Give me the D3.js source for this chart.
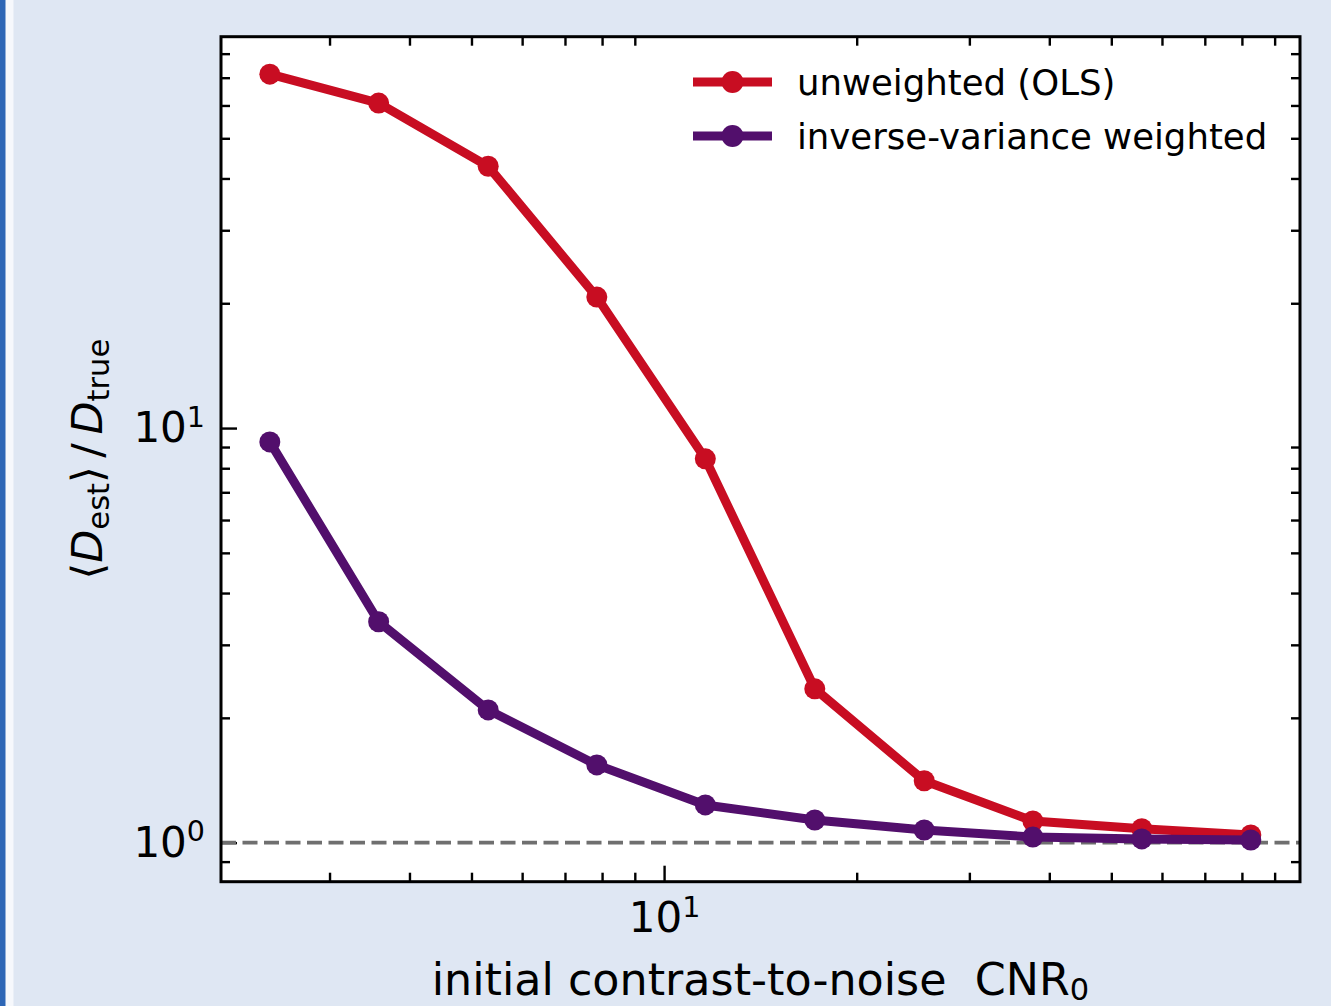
<!DOCTYPE html>
<html>
<head>
<meta charset="utf-8">
<script src="https://cdn.jsdelivr.net/npm/d3@7"></script>
<style>
  html, body { margin: 0; padding: 0; background: #dfe7f3; }
  svg { display: block; }
  text { font-family: "DejaVu Sans", sans-serif; fill: #000; }
</style>
</head>
<body>
<svg id="chart" width="1331" height="1006"></svg>
<script>
// Initial contrast-to-noise ratio (x) and mean estimated / true diffusion ratio (y)
const cnr = [2.42, 3.58, 5.31, 7.85, 11.6, 17.2, 25.5, 37.7, 55.8, 82.6];
const olsRatio = [71.4, 60.8, 42.8, 20.7, 8.43, 2.35, 1.41, 1.128, 1.080, 1.044];
const ivwRatio = [9.26, 3.41, 2.09, 1.54, 1.233, 1.134, 1.073, 1.032, 1.021, 1.015];
const seriesNames = ["unweighted (OLS)", "inverse-variance weighted"];
const xMajorTicks = [10];
const xMinorTicks = [3, 4, 5, 6, 7, 8, 9, 20, 30, 40, 50, 60, 70, 80, 90];
const yMajorTicks = [1, 10];
const yMinorTicks = [0.9, 2, 3, 4, 5, 6, 7, 8, 9, 20, 30, 40, 50, 60, 70, 80];
const referenceLevel = 1;

const W = 1331, H = 1006;
const plot = { left: 221, right: 1300, top: 36.7, bottom: 881.7 };
const colors = ["#c80d22", "#520f6c"];

const svg = d3.select("#chart");

// page backdrop with the left accent stripe
svg.append("rect").attr("width", W).attr("height", H).attr("fill", "#dfe7f3");
svg.append("rect").attr("x", 0).attr("y", 0).attr("width", 13.5).attr("height", H).attr("fill", "#f6f8fc");
svg.append("rect").attr("x", 0).attr("y", 0).attr("width", 5.5).attr("height", H).attr("fill", "#2d66b6");

const x = d3.scaleLog().domain([2.03, 98.6]).range([plot.left, plot.right]);
const y = d3.scaleLog().domain([0.805, 87.9]).range([plot.bottom, plot.top]);

// plotting area
svg.append("rect")
  .attr("x", plot.left).attr("y", plot.top)
  .attr("width", plot.right - plot.left).attr("height", plot.bottom - plot.top)
  .attr("fill", "#ffffff");

svg.append("clipPath").attr("id", "plotclip")
  .append("rect")
  .attr("x", plot.left).attr("y", plot.top)
  .attr("width", plot.right - plot.left).attr("height", plot.bottom - plot.top);

const majorLen = 16, minorLen = 9;
const tickFont = 42;

function styleTicks(g) {
  g.select(".domain").remove();
  g.selectAll(".tick line").attr("stroke", "#000").attr("stroke-width", 2.4);
}

// power-of-ten label: base "10" with a raised exponent
function powerLabel(textSel) {
  textSel.each(function(d) {
    const t = d3.select(this);
    const exp = Math.round(Math.log10(d));
    t.text(null);
    t.append("tspan").text("10");
    t.append("tspan").attr("font-size", tickFont * 0.68).attr("dy", -15.5).text(String(exp));
  });
}

// bottom axis
const gxMajor = svg.append("g")
  .attr("transform", `translate(0,${plot.bottom})`)
  .call(d3.axisBottom(x).tickValues(xMajorTicks).tickSize(-majorLen).tickPadding(20.5));
styleTicks(gxMajor);
gxMajor.selectAll(".tick text").attr("font-size", tickFont).attr("font-family", "DejaVu Sans").call(powerLabel);

const gxMinor = svg.append("g")
  .attr("transform", `translate(0,${plot.bottom})`)
  .call(d3.axisBottom(x).tickValues(xMinorTicks).tickSize(-minorLen).tickFormat(""));
styleTicks(gxMinor);

// top axis: minor ticks only
const gxTop = svg.append("g")
  .attr("transform", `translate(0,${plot.top})`)
  .call(d3.axisTop(x).tickValues(xMinorTicks).tickSize(-minorLen).tickFormat(""));
styleTicks(gxTop);

// left axis
const gyMajor = svg.append("g")
  .attr("transform", `translate(${plot.left},0)`)
  .call(d3.axisLeft(y).tickValues(yMajorTicks).tickSize(-majorLen).tickPadding(16));
styleTicks(gyMajor);
gyMajor.selectAll(".tick text").attr("font-size", tickFont).attr("font-family", "DejaVu Sans").call(powerLabel);

const gyMinor = svg.append("g")
  .attr("transform", `translate(${plot.left},0)`)
  .call(d3.axisLeft(y).tickValues(yMinorTicks).tickSize(-minorLen).tickFormat(""));
styleTicks(gyMinor);

// right axis: minor ticks only
const gyRight = svg.append("g")
  .attr("transform", `translate(${plot.right},0)`)
  .call(d3.axisRight(y).tickValues(yMinorTicks).tickSize(-minorLen).tickFormat(""));
styleTicks(gyRight);

// reference line at ratio = 1
svg.append("line")
  .attr("x1", plot.left).attr("x2", plot.right)
  .attr("y1", y(referenceLevel)).attr("y2", y(referenceLevel))
  .attr("stroke", "#6f6f6f").attr("stroke-width", 3.6)
  .attr("stroke-dasharray", "15,6.5");

// data series
const series = [
  { name: seriesNames[0], values: olsRatio, color: colors[0] },
  { name: seriesNames[1], values: ivwRatio, color: colors[1] }
];

const line = d3.line().x(d => x(d[0])).y(d => y(d[1]));
const dataLayer = svg.append("g").attr("clip-path", "url(#plotclip)");

series.forEach(s => {
  const pts = cnr.map((c, i) => [c, s.values[i]]);
  dataLayer.append("path")
    .datum(pts)
    .attr("d", line)
    .attr("fill", "none")
    .attr("stroke", s.color)
    .attr("stroke-width", 9)
    .attr("stroke-linejoin", "round");
  dataLayer.selectAll(null)
    .data(pts)
    .enter().append("circle")
    .attr("cx", d => x(d[0]))
    .attr("cy", d => y(d[1]))
    .attr("r", 10.5)
    .attr("fill", s.color);
});

// frame
svg.append("rect")
  .attr("x", plot.left).attr("y", plot.top)
  .attr("width", plot.right - plot.left).attr("height", plot.bottom - plot.top)
  .attr("fill", "none").attr("stroke", "#000").attr("stroke-width", 3);

// legend
const legend = svg.append("g");
series.forEach((s, i) => {
  const ly = 82 + i * 54;
  legend.append("line")
    .attr("x1", 693).attr("x2", 772).attr("y1", ly).attr("y2", ly)
    .attr("stroke", s.color).attr("stroke-width", 9);
  legend.append("circle").attr("cx", 732.5).attr("cy", ly).attr("r", 11).attr("fill", s.color);
  legend.append("text")
    .attr("x", 797).attr("y", ly).attr("dy", "0.36em")
    .attr("font-size", 35.5)
    .text(s.name);
});

// x-axis title
const xTitle = svg.append("text")
  .attr("x", (plot.left + plot.right) / 2).attr("y", 995)
  .attr("text-anchor", "middle").attr("font-size", 44.4);
xTitle.append("tspan").text("initial contrast-to-noise\u00a0\u00a0CNR");
xTitle.append("tspan").attr("font-size", 30.5).attr("dy", 5).text("0");

// y-axis title
const yTitle = svg.append("text")
  .attr("transform", `translate(102,${(plot.top + plot.bottom) / 2}) rotate(-90)`)
  .attr("text-anchor", "middle").attr("font-size", 43);
yTitle.append("tspan").text("\u27e8");
yTitle.append("tspan").attr("font-style", "italic").text("D");
yTitle.append("tspan").attr("font-size", 30.5).attr("dy", 7).text("est");
yTitle.append("tspan").attr("dy", -7).text("\u27e9\u2009/\u2009");
yTitle.append("tspan").attr("font-style", "italic").text("D");
yTitle.append("tspan").attr("font-size", 30.5).attr("dy", 7).text("true");
</script>
</body>
</html>
